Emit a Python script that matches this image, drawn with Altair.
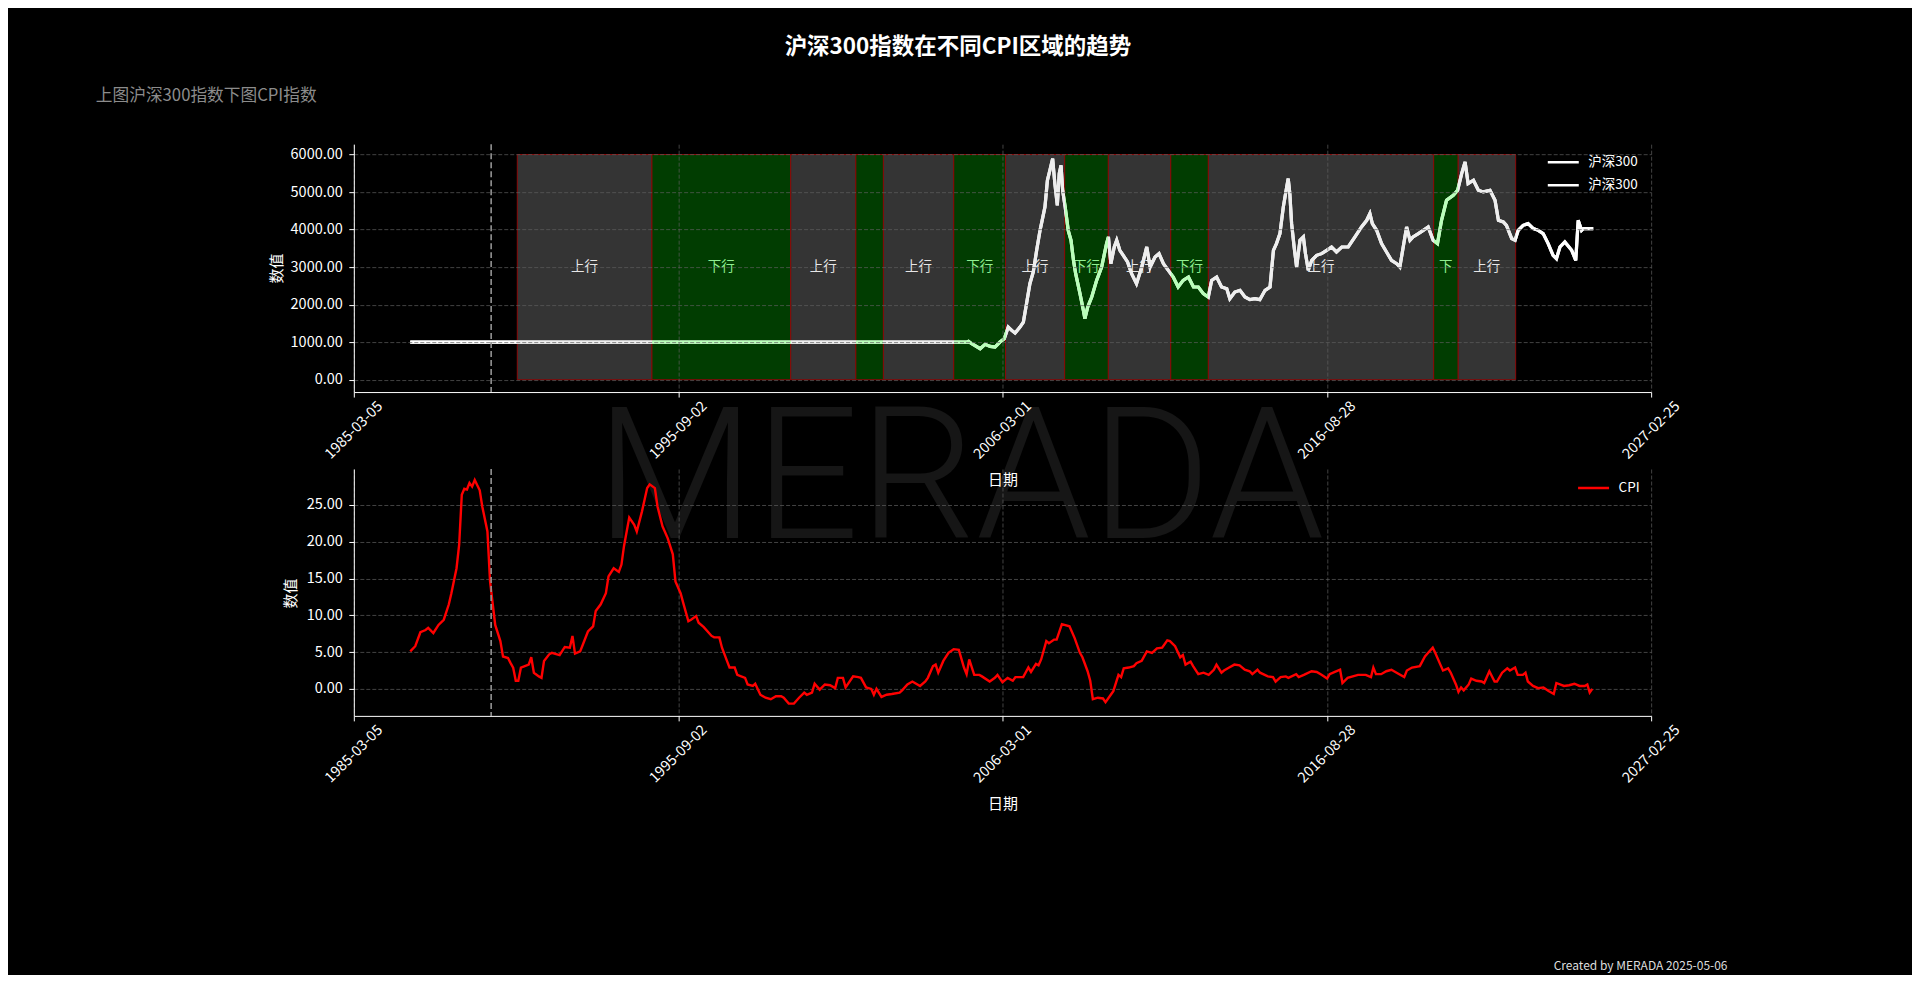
import altair as alt
import pandas as pd

FONT = "Noto Sans CJK SC"

# ---------------- data ----------------
cpi_months = [
    "1987-01", "1987-03", "1987-05", "1987-07", "1987-08", "1987-10", "1987-12", "1988-02", "1988-04", "1988-05",
    "1988-07", "1988-08", "1988-09", "1988-10", "1988-11", "1988-12", "1989-01", "1989-02", "1989-04", "1989-05",
    "1989-07", "1989-08", "1989-10", "1989-12", "1990-01", "1990-03", "1990-04", "1990-05", "1990-06", "1990-07",
    "1990-08", "1990-11", "1990-12", "1991-01", "1991-03", "1991-04", "1991-05", "1991-07", "1991-08", "1991-10",
    "1991-11", "1992-01", "1992-03", "1992-04", "1992-05", "1992-07", "1992-08", "1992-10", "1992-12", "1993-01",
    "1993-03", "1993-05", "1993-06", "1993-08", "1993-10", "1993-11", "1993-12", "1994-02", "1994-04", "1994-05",
    "1994-07", "1994-09", "1994-10", "1994-12", "1995-01", "1995-03", "1995-05", "1995-07", "1995-08", "1995-10",
    "1995-11", "1996-01", "1996-02", "1996-04", "1996-05", "1996-07", "1996-10", "1996-11", "1997-01", "1997-02",
    "1997-04", "1997-05", "1997-07", "1997-08", "1997-11", "1997-12", "1998-02", "1998-03", "1998-05", "1998-07",
    "1998-09", "1998-11", "1999-01", "1999-02", "1999-04", "1999-06", "1999-08", "1999-10", "1999-11", "2000-01",
    "2000-02", "2000-04", "2000-06", "2000-08", "2000-10", "2000-11", "2001-01", "2001-02", "2001-05", "2001-07",
    "2001-08", "2001-10", "2001-12", "2002-01", "2002-02", "2002-04", "2002-06", "2002-08", "2002-11", "2002-12",
    "2003-02", "2003-04", "2003-05", "2003-07", "2003-09", "2003-10", "2003-12", "2004-01", "2004-02", "2004-04",
    "2004-06", "2004-08", "2004-10", "2004-12", "2005-01", "2005-02", "2005-04", "2005-06", "2005-07", "2005-10",
    "2005-12", "2006-01", "2006-03", "2006-05", "2006-07", "2006-08", "2006-09", "2006-11", "2007-01", "2007-02",
    "2007-04", "2007-05", "2007-06", "2007-08", "2007-09", "2007-11", "2007-12", "2008-02", "2008-05", "2008-07",
    "2008-09", "2008-10", "2008-12", "2009-01", "2009-02", "2009-04", "2009-06", "2009-07", "2009-09", "2009-10",
    "2009-12", "2010-01", "2010-02", "2010-04", "2010-06", "2010-07", "2010-09", "2010-11", "2011-01", "2011-03",
    "2011-05", "2011-07", "2011-08", "2011-10", "2011-12", "2012-01", "2012-02", "2012-04", "2012-05", "2012-07",
    "2012-09", "2012-11", "2013-01", "2013-02", "2013-04", "2013-05", "2013-07", "2013-09", "2013-11", "2014-01",
    "2014-03", "2014-04", "2014-06", "2014-07", "2014-10", "2014-12", "2015-01", "2015-03", "2015-05", "2015-06",
    "2015-09", "2015-10", "2015-12", "2016-03", "2016-05", "2016-07", "2016-09", "2016-10", "2016-12", "2017-02",
    "2017-03", "2017-05", "2017-07", "2017-09", "2017-10", "2017-12", "2018-02", "2018-03", "2018-04", "2018-06",
    "2018-08", "2018-10", "2018-12", "2019-03", "2019-04", "2019-06", "2019-09", "2019-11", "2019-12", "2020-02",
    "2020-03", "2020-05", "2020-06", "2020-08", "2020-09", "2020-11", "2020-12", "2021-01", "2021-02", "2021-04",
    "2021-05", "2021-07", "2021-09", "2021-10", "2021-12", "2022-02", "2022-03", "2022-05", "2022-07", "2022-08",
    "2022-10", "2022-11", "2023-01", "2023-02", "2023-03", "2023-05", "2023-07", "2023-09", "2023-11", "2024-01",
    "2024-02", "2024-05", "2024-07", "2024-09", "2024-11", "2025-01", "2025-02", "2025-03", "2025-04",
]
cpi_values = [
    5.1, 5.8, 7.7, 8.0, 8.3, 7.6, 8.7, 9.4, 11.5, 13.0,
    16.4, 19.6, 26.4, 27.2, 27.1, 28.0, 27.5, 28.4, 27.0, 24.8,
    21.4, 14.6, 8.7, 6.5, 4.4, 4.2, 3.5, 2.9, 1.1, 1.1,
    2.9, 3.3, 4.3, 2.2, 1.7, 1.5, 3.8, 4.7, 4.9, 4.7,
    4.6, 5.7, 5.6, 7.2, 4.8, 5.1, 6.0, 7.8, 8.5, 10.6,
    11.5, 13.0, 15.3, 16.4, 15.9, 16.9, 19.4, 23.3, 22.3, 21.4,
    24.1, 27.3, 27.8, 27.3, 24.8, 22.1, 20.5, 18.3, 14.6, 13.0,
    11.7, 9.2, 9.4, 9.9, 9.0, 8.4, 7.2, 7.0, 7.0, 5.6,
    3.8, 2.9, 2.9, 1.9, 1.5, 0.6, 0.4, 0.7, -0.8, -1.2,
    -1.4, -1.0, -1.0, -1.2, -2.0, -2.0, -1.2, -0.5, -0.8, -0.5,
    0.7, -0.1, 0.6, 0.5, 0.1, 1.5, 1.5, 0.2, 1.7, 1.6,
    1.5, 0.2, 0.0, -0.8, 0.0, -1.1, -0.8, -0.7, -0.5, -0.2,
    0.6, 1.0, 0.8, 0.4, 1.0, 1.5, 3.1, 3.3, 2.2, 3.8,
    4.9, 5.4, 5.3, 2.9, 2.0, 4.0, 1.9, 1.9, 1.7, 1.0,
    1.5, 1.9, 0.9, 1.5, 1.1, 1.6, 1.6, 1.6, 2.9, 2.3,
    3.4, 3.2, 4.0, 6.5, 6.2, 6.7, 6.7, 8.8, 8.5, 6.9,
    4.9, 4.3, 2.4, 1.1, -1.4, -1.2, -1.3, -1.8, -0.8, -0.3,
    1.9, 1.6, 2.8, 2.9, 3.1, 3.5, 3.8, 5.1, 4.9, 5.5,
    5.6, 6.6, 6.5, 5.8, 4.3, 4.6, 3.3, 3.7, 3.1, 2.0,
    2.2, 1.9, 2.6, 3.3, 2.2, 2.5, 2.9, 3.3, 3.2, 2.6,
    2.4, 2.0, 2.6, 2.2, 1.7, 1.6, 1.0, 1.6, 1.7, 1.5,
    2.0, 1.6, 1.9, 2.4, 2.3, 1.9, 1.4, 2.0, 2.3, 2.6,
    0.8, 1.5, 1.7, 1.9, 1.9, 1.9, 1.6, 2.9, 2.0, 2.0,
    2.4, 2.6, 2.2, 1.6, 2.5, 2.9, 3.1, 4.4, 4.8, 5.6,
    4.9, 3.3, 2.5, 2.8, 2.2, 0.6, -0.4, 0.2, -0.2, 0.6,
    1.4, 1.1, 1.0, 0.8, 2.4, 1.0, 1.0, 2.2, 2.8, 2.5,
    2.9, 1.9, 1.9, 2.2, 1.0, 0.4, 0.1, 0.2, -0.3, -0.7,
    0.8, 0.4, 0.5, 0.7, 0.4, 0.4, 0.6, -0.5, 0.0,
]

csi_dates = [
    "1987-01-01", "2004-12-31", "2005-01-23", "2005-03-03", "2005-06-10", "2005-08-08", "2005-10-06", "2005-12-03",
    "2006-01-30", "2006-03-22", "2006-05-08", "2006-06-18", "2006-07-28", "2006-09-24", "2006-11-03", "2006-12-10",
    "2007-01-19", "2007-02-28", "2007-04-09", "2007-05-19", "2007-06-13", "2007-07-16", "2007-08-14", "2007-09-12",
    "2007-10-15", "2007-11-10", "2007-12-09", "2008-01-01", "2008-01-22", "2008-02-10", "2008-03-11", "2008-04-16",
    "2008-05-19", "2008-06-17", "2008-07-13", "2008-09-02", "2008-10-12", "2008-10-30", "2008-12-02", "2009-01-19",
    "2009-03-18", "2009-05-16", "2009-07-13", "2009-08-04", "2009-09-02", "2009-10-12", "2009-11-10", "2009-12-17",
    "2010-01-26", "2010-03-18", "2010-05-05", "2010-07-02", "2010-09-02", "2010-10-31", "2010-12-10", "2011-02-06",
    "2011-03-25", "2011-05-16", "2011-07-13", "2011-09-09", "2011-11-06", "2012-01-04", "2012-03-07", "2012-05-05",
    "2012-07-02", "2012-08-29", "2012-10-27", "2012-12-06", "2013-02-03", "2013-04-02", "2013-06-03", "2013-07-09",
    "2013-09-06", "2013-11-06", "2014-01-04", "2014-03-03", "2014-05-01", "2014-06-28", "2014-08-29", "2014-10-27",
    "2014-12-06", "2015-01-11", "2015-02-21", "2015-04-02", "2015-05-12", "2015-05-30", "2015-06-18", "2015-07-09",
    "2015-08-08", "2015-09-06", "2015-10-16", "2015-11-25", "2015-12-20", "2016-01-22", "2016-03-03", "2016-04-30",
    "2016-06-28", "2016-08-26", "2016-10-23", "2016-12-20", "2017-02-21", "2017-05-08", "2017-07-27", "2017-10-12",
    "2017-12-13", "2018-01-19", "2018-02-17", "2018-04-09", "2018-06-06", "2018-08-04", "2018-10-01", "2018-12-02",
    "2019-01-08", "2019-02-17", "2019-03-29", "2019-05-08", "2019-06-13", "2019-08-15", "2019-10-12", "2019-12-09",
    "2020-02-06", "2020-03-28", "2020-05-15", "2020-07-13", "2020-10-01", "2020-11-21", "2021-01-08", "2021-02-17",
    "2021-03-25", "2021-05-27", "2021-07-24", "2021-09-20", "2021-12-09", "2022-02-06", "2022-03-18", "2022-05-15",
    "2022-06-21", "2022-08-22", "2022-10-01", "2022-11-07", "2023-01-04", "2023-03-04", "2023-05-05", "2023-07-02",
    "2023-08-29", "2023-10-27", "2023-12-24", "2024-02-02", "2024-03-14", "2024-05-11", "2024-07-31", "2024-09-17",
    "2024-10-16", "2024-11-25", "2024-12-17", "2025-04-12",
]
csi_values = [
    1000, 1000, 1020, 958, 826, 941, 888, 870,
    1003, 1092, 1403, 1314, 1243, 1403, 1536, 2025,
    2558, 2869, 3447, 3980, 4247, 4603, 5314, 5580,
    5891, 5225, 4647, 5492, 5714, 5047, 4603, 3980,
    3714, 3181, 2825, 2292, 1847, 1625, 1936, 2203,
    2647, 3003, 3625, 3803, 3092, 3536, 3714, 3447,
    3314, 3136, 2825, 2558, 3003, 3536, 3003, 3270,
    3358, 3092, 2914, 2736, 2470, 2647, 2736, 2470,
    2470, 2292, 2203, 2647, 2736, 2470, 2425, 2158,
    2336, 2381, 2203, 2132, 2158, 2132, 2381, 2470,
    3447, 3625, 3892, 4603, 5136, 5358, 4958, 4158,
    3536, 3003, 3714, 3803, 3358, 2914, 3181, 3314,
    3358, 3447, 3536, 3403, 3536, 3536, 3803, 4070,
    4247, 4425, 4158, 3980, 3625, 3403, 3181, 3092,
    3003, 3536, 4070, 3714, 3803, 3892, 3980, 4070,
    3714, 3625, 4247, 4781, 4914, 5047, 5492, 5803,
    5225, 5314, 5047, 5003, 5047, 4781, 4247, 4203,
    4114, 3758, 3714, 3980, 4114, 4158, 4025, 3980,
    3892, 3625, 3314, 3225, 3536, 3670, 3447, 3181,
    4247, 3980, 4025, 4025,
]

region_types = ["上行", "下行", "上行", "下行", "上行", "下行", "上行", "下行", "上行", "下行", "上行", "下行", "上行"]
region_starts = ["1990-06-19", "1994-10-27", "1999-04-23", "2001-06-02", "2002-04-23", "2004-08-02", "2006-04-06",
                 "2008-03-05", "2009-08-02", "2011-08-11", "2012-10-27", "2020-02-12", "2020-11-26"]
region_ends = ["1994-10-27", "1999-04-23", "2001-06-02", "2002-04-23", "2004-08-02", "2006-04-06", "2008-03-05",
               "2009-08-02", "2011-08-11", "2012-10-27", "2020-02-12", "2020-11-26", "2022-10-08"]
region_labels = ["上行", "下行", "上行", "", "上行", "下行", "上行", "下行", "上行", "下行", "上行", "下", "上行"]
region_span = [0, 6000]
label_level = 3000

marker_dates = ["1989-08-14"]
x_tick_dates = ["1985-03-05", "1995-09-02", "2006-03-01", "2016-08-28", "2027-02-25"]
csi_y_ticks = [0, 1000, 2000, 3000, 4000, 5000, 6000]
cpi_y_ticks = [0, 5, 10, 15, 20, 25]
csi_y_domain = [-329, 6275]
cpi_y_domain = [-3.67, 29.89]

# ---------------- tables ----------------
cpi_df = pd.DataFrame({"date": [m + "-01" for m in cpi_months], "value": cpi_values})
csi_df = pd.DataFrame({"date": csi_dates, "value": csi_values})
reg_df = pd.DataFrame({"type": region_types, "start": region_starts, "end": region_ends, "label": region_labels})
_s = pd.to_datetime(reg_df["start"])
_e = pd.to_datetime(reg_df["end"])
reg_df["mid"] = (_s + (_e - _s) / 2).dt.strftime("%Y-%m-%d")
marker_df = pd.DataFrame({"d": marker_dates})


def dt(s):
    y, m, d = (int(v) for v in s.split("-"))
    return alt.DateTime(year=y, month=m, date=d, utc=True)


# colour the 沪深300 line by region through a gradient whose stops come from the region dates
WHITE, UP_LINE, DOWN_LINE = "#ffffff", "#eeeeee", "#b9ffb9"
t0, t1 = pd.Timestamp(csi_dates[0]), pd.Timestamp(csi_dates[-1])


def off(s):
    return max(0.0, min(1.0, float((pd.Timestamp(s) - t0) / (t1 - t0))))


stops = [alt.GradientStop(color=WHITE, offset=0.0), alt.GradientStop(color=WHITE, offset=off(region_starts[0]))]
for ty, s, e in zip(region_types, region_starts, region_ends):
    c = UP_LINE if ty == "上行" else DOWN_LINE
    stops.append(alt.GradientStop(color=c, offset=off(s)))
    stops.append(alt.GradientStop(color=c, offset=off(e)))
stops.append(alt.GradientStop(color=WHITE, offset=off(region_ends[-1])))
stops.append(alt.GradientStop(color=WHITE, offset=1.0))
line_gradient = alt.LinearGradient(gradient="linear", stops=stops, x1=0, x2=1, y1=0, y2=0)

W, H_TOP, H_BOT = 1298, 248, 247
GRID = dict(grid=True, gridColor="#5e5e5e", gridDash=[4, 2], gridWidth=0.7)
xscale = alt.Scale(type="utc", domain=[dt(x_tick_dates[0]), dt(x_tick_dates[-1])])


def x_axis(z):
    return alt.Axis(
        values=[dt(s) for s in x_tick_dates], format="%Y-%m-%d",
        labelAngle=315, labelAlign="center", labelBaseline="middle", labelPadding=33,
        labelFlush=False, labelOverlap=False, labelColor="white", labelFontSize=14.5,
        tickColor="white", tickSize=5, domainColor="white", domainWidth=1, **GRID,
        title="日期", titleColor="white", titleFontSize=15, titleFontWeight="normal",
        titleX=W / 2, titleY=87.5, titleAlign="center", titleBaseline="middle", zindex=z,
    )


def y_axis(ticks, title_x, z):
    return alt.Axis(
        values=ticks, format=".2f", labelColor="white", labelFontSize=14.5, labelPadding=6.5,
        tickColor="white", tickSize=5, domainColor="white", domainWidth=1, **GRID,
        title="数值", titleColor="white", titleFontSize=15, titleFontWeight="normal",
        titleX=title_x, titleY=H_TOP / 2, titleAngle=270, titleAlign="center", titleBaseline="middle", zindex=z,
    )


xa_top = x_axis(1)
ya_top = y_axis(csi_y_ticks, -77.6, 1)
yscale_top = alt.Scale(domain=csi_y_domain, nice=False, zero=False)
one = alt.Data(values=[{"k": 0}])

# ---------------- top panel ----------------
bounds_rule = alt.Chart(one).mark_rule(color="black", strokeOpacity=0).encode(
    x=alt.value(-345.6), x2=alt.value(1558.4), y=alt.value(-136), y2=alt.value(831)
)
watermark = alt.Chart(one).mark_text(
    text="MERADA", font="Roboto", fontSize=184, fontWeight=300, color="#161616",
    align="center", baseline="alphabetic"
).encode(x=alt.value(606.4), y=alt.value(394.3))

rect_up = alt.Chart(reg_df).transform_filter(alt.datum.type == "上行").mark_rect(
    color="#343434", stroke="#8b0a0a", strokeWidth=1
).encode(
    x=alt.X("start:T", scale=xscale, axis=xa_top), x2="end:T",
    y=alt.Y(datum=region_span[0], scale=yscale_top, axis=ya_top), y2=alt.datum(region_span[1]),
)
rect_down = alt.Chart(reg_df).transform_filter(alt.datum.type == "下行").mark_rect(
    color="#013d01", stroke="#8b0a0a", strokeWidth=1
).encode(
    x=alt.X("start:T", scale=xscale, axis=xa_top), x2="end:T",
    y=alt.Y(datum=region_span[0], scale=yscale_top, axis=ya_top), y2=alt.datum(region_span[1]),
)
text_up = alt.Chart(reg_df).transform_filter(alt.datum.type == "上行").mark_text(
    fontSize=13.5, color="#e6e6e6", baseline="middle"
).encode(
    x=alt.X("mid:T", scale=xscale, axis=xa_top),
    y=alt.Y(datum=label_level, scale=yscale_top, axis=ya_top), text="label:N",
)
text_down = alt.Chart(reg_df).transform_filter(alt.datum.type == "下行").mark_text(
    fontSize=13.5, color="#90ee90", baseline="middle"
).encode(
    x=alt.X("mid:T", scale=xscale, axis=xa_top),
    y=alt.Y(datum=label_level, scale=yscale_top, axis=ya_top), text="label:N",
)
csi_a = alt.Chart(csi_df).transform_calculate(series="'沪深300-a'").mark_line(strokeWidth=3.2).encode(
    x=alt.X("date:T", scale=xscale, axis=xa_top),
    y=alt.Y("value:Q", scale=yscale_top, axis=ya_top),
    color=alt.Color(
        "series:N",
        scale=alt.Scale(domain=["沪深300-a", "沪深300-b"], range=["#ffffff", "#ffffff"]),
        legend=alt.Legend(
            title=None, orient="none", legendX=1193.1, legendY=7.5, padding=0,
            labelExpr="'沪深300'", symbolType="stroke", symbolSize=961, symbolStrokeWidth=2.5,
            clipHeight=21, rowPadding=2, labelOffset=8, labelFontSize=13.5, labelColor="white",
        ),
    ),
)
csi_b = alt.Chart(csi_df).mark_line(strokeWidth=3.2, color=line_gradient).encode(
    x=alt.X("date:T", scale=xscale, axis=xa_top),
    y=alt.Y("value:Q", scale=yscale_top, axis=ya_top),
)
marker_top = alt.Chart(marker_df).mark_rule(color="#939393", strokeDash=[6, 3], strokeWidth=1.6).encode(
    x=alt.X("d:T", scale=xscale, axis=xa_top)
)
main_title = alt.Chart(one).mark_text(
    text="沪深300指数在不同CPI区域的趋势", fontSize=22.5, fontWeight="bold", color="white",
    align="center", baseline="middle"
).encode(x=alt.value(604.4), y=alt.value(-97.3))
sub_title = alt.Chart(one).mark_text(
    text="上图沪深300指数下图CPI指数", fontSize=16.7, color="#8c8c8c", align="left", baseline="middle"
).encode(x=alt.value(-258.1), y=alt.value(-48.3))
footer = alt.Chart(one).mark_text(
    text="Created by MERADA 2025-05-06", fontSize=12, color="#dddddd", align="right", baseline="middle"
).encode(x=alt.value(1374.4), y=alt.value(822))

top = alt.layer(
    bounds_rule, watermark, rect_up, rect_down, text_up, text_down, csi_a, csi_b, marker_top,
    main_title, sub_title, footer,
).properties(width=W, height=H_TOP)

# ---------------- bottom panel ----------------
xa_bot = x_axis(0)
ya_bot = y_axis(cpi_y_ticks, -63.6, 0)
yscale_bot = alt.Scale(domain=cpi_y_domain, nice=False, zero=False)

cpi_line = alt.Chart(cpi_df).transform_calculate(series="'CPI'").mark_line(strokeWidth=2.4).encode(
    x=alt.X("date:T", scale=xscale, axis=xa_bot),
    y=alt.Y("value:Q", scale=yscale_bot, axis=ya_bot),
    color=alt.Color(
        "series:N", scale=alt.Scale(domain=["CPI"], range=["#ff0000"]),
        legend=alt.Legend(
            title=None, orient="none", legendX=1223.4, legendY=8.5, padding=0,
            symbolType="stroke", symbolSize=961, symbolStrokeWidth=2.5,
            clipHeight=21, rowPadding=2, labelOffset=8, labelFontSize=13.5, labelColor="white",
        ),
    ),
)
marker_bot = alt.Chart(marker_df).mark_rule(color="#939393", strokeDash=[6, 3], strokeWidth=1.6).encode(
    x=alt.X("d:T", scale=xscale, axis=xa_bot)
)
bottom = alt.layer(cpi_line, marker_bot).properties(width=W, height=H_BOT)

chart = alt.vconcat(top, bottom, spacing=77, bounds="flush").resolve_scale(
    x="independent", y="independent", color="independent"
).properties(padding=0).configure(
    background="black", font=FONT
).configure_view(strokeWidth=0)

chart.save("out.html", embed_options={"renderer": "svg", "actions": False})
